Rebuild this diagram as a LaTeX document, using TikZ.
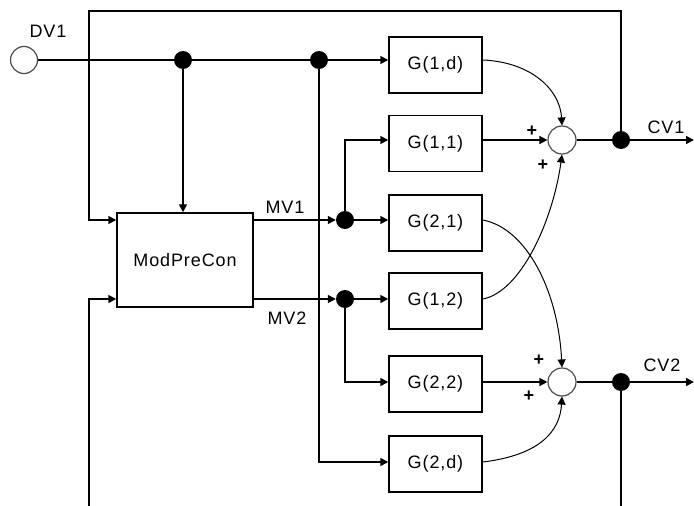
\documentclass[tikz,border=0pt]{standalone}
\usepackage{fontspec}
\setmainfont{Liberation Sans}[LetterSpace=5]
\usetikzlibrary{arrows.meta}
\begin{document}
\begin{tikzpicture}[x=1pt,y=-1pt,
  every node/.style={font=\fontsize{18}{20}\selectfont},
  ln/.style={line width=1.5pt},
  arr/.style={ln,-{Triangle[length=8pt,width=8pt]}},
  crv/.style={line width=1pt,-{Triangle[length=8pt,width=8pt]}},
  gbox/.style={draw,line width=1.5pt,minimum width=93pt,minimum height=56pt,inner sep=0pt},
  dot/.style={circle,fill=black,minimum size=18pt,inner sep=0pt},
  sumc/.style={circle,draw=black!70,line width=1.2pt,fill=white,minimum size=28pt,inner sep=0pt},
  pl/.style={font=\fontsize{18}{18}\selectfont\bfseries,inner sep=0pt}]
\useasboundingbox (0,0) rectangle (694,506);
% nodes
\node[sumc,minimum size=27pt] (dv) at (24,60) {};
\node (dvl) at (48,31) {DV1};
\node[draw,line width=1.5pt,minimum width=136pt,minimum height=94pt,inner sep=0pt] (mpc) at (185,260) {ModPreCon};
\node[gbox] (g1d) at (435.5,65) {G(1,d)};
\node[gbox] (g11) at (435.5,143.5) {G(1,1)};
\node[gbox] (g21) at (435.5,223) {G(2,1)};
\node[gbox] (g12) at (435.5,301) {G(1,2)};
\node[gbox] (g22) at (435.5,384) {G(2,2)};
\node[gbox] (g2d) at (435.5,464) {G(2,d)};
\node[dot] (d1) at (183,60) {};
\node[dot] (d2) at (319,60) {};
\node[dot] (m1) at (345,220) {};
\node[dot] (m2) at (345,299) {};
\node[sumc] (s1) at (562,140) {};
\node[sumc] (s2) at (562,382) {};
\node[dot] (c1) at (621,140) {};
\node[dot] (c2) at (621,382) {};
\node (mv1) at (285,207) {MV1};
\node (mv2) at (287,318) {MV2};
\node (cv1) at (666,127) {CV1};
\node (cv2) at (662,365) {CV2};
\node[pl] (p1) at (532,131) {+};
\node[pl] (p2) at (543,165) {+};
\node[pl] (p3) at (539,360) {+};
\node[pl] (p4) at (529,396) {+};
\coordinate (tl) at (89,11);
\coordinate (bl) at (89,506);
\coordinate (br) at (621,506);
\coordinate (o1) at (694,140);
\coordinate (o2) at (694,382);
% DV1 line
\draw[ln] (dv) -- (d1);
\draw[ln] (d1) -- (d2);
\draw[arr] (d2) -- (d2 -| g1d.west);
\draw[arr] (d1) -- (d1 |- mpc.north);
\draw[arr] (d2) |- ([yshift=2pt]g2d.west);
% feedback
\draw[arr] (c1) |- (tl) |- (mpc.west |- m1);
\draw[arr] (bl) |- (mpc.west |- m2);
\draw[ln] (c2) -- (br);
% MV lines
\draw[arr] (mpc.east |- m1) -- (m1);
\draw[arr] (mpc.east |- m2) -- (m2);
\draw[arr] (m1) -- (m1 -| g21.west);
\draw[arr] (m2) -- (m2 -| g12.west);
\draw[arr] (m1) |- ([yshift=3.5pt]g11.west);
\draw[arr] (m2) |- ([yshift=2pt]g22.west);
% into sums
\draw[arr] (g11.east |- s1) -- (s1);
\draw[arr] (g22.east |- s2) -- (s2);
\draw[crv] (g1d.east |- d2) .. controls +(48,2) and +(-2,-36) .. (s1.north);
\draw[crv] (g12.east |- m2) .. controls +(38,-7) and +(-9,66) .. (s1.south);
\draw[crv] (g21.east |- m1) .. controls +(43,8) and +(-4,-78) .. (s2.north);
\draw[crv] ([yshift=2pt]g2d.east) .. controls +(58,-7) and +(-2,34) .. (s2.south);
% outputs
\draw[ln] (s1) -- (c1);
\draw[arr] (c1) -- (o1);
\draw[ln] (s2) -- (c2);
\draw[arr] (c2) -- (o2);
\end{tikzpicture}
\end{document}
